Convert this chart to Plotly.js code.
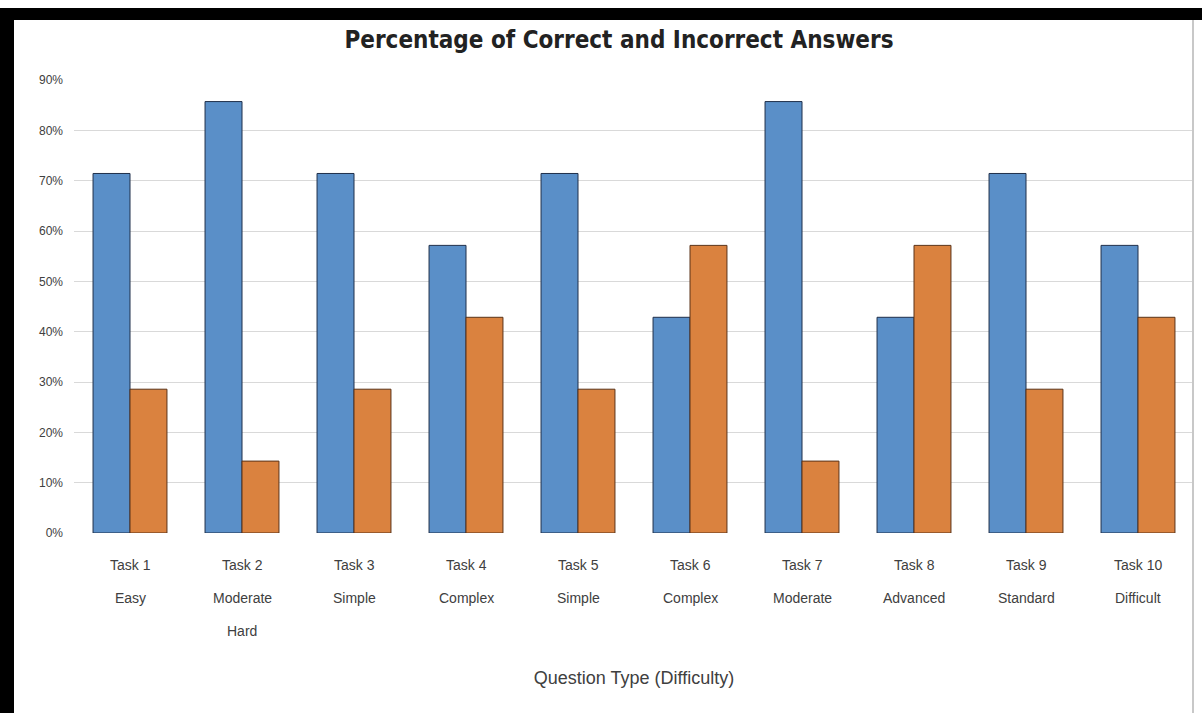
<!DOCTYPE html>
<html>
<head>
<meta charset="utf-8">
<script src="https://cdn.plot.ly/plotly-3.0.1.min.js"></script>
<style>
  html, body { margin: 0; padding: 0; background: #fff; width: 1202px; height: 713px; overflow: hidden; }
  #chart { position: absolute; left: 0; top: 0; width: 1202px; height: 713px; }
  #frameTop { position: absolute; left: 0; top: 8px; width: 1202px; height: 12px; background: #000; }
  #frameLeft { position: absolute; left: 0; top: 8px; width: 14px; height: 705px; background: #000; }
  #frameRight { position: absolute; left: 1192px; top: 20px; width: 2px; height: 693px; background: #c8c8c8; }
</style>
</head>
<body>
<div id="chart"></div>
<div id="frameTop"></div>
<div id="frameLeft"></div>
<div id="frameRight"></div>
<script>
// Categories and their label lines
const categories = ["Task 1", "Task 2", "Task 3", "Task 4", "Task 5", "Task 6", "Task 7", "Task 8", "Task 9", "Task 10"];
const labelLine2 = ["Easy", "Moderate", "Simple", "Complex", "Simple", "Complex", "Moderate", "Advanced", "Standard", "Difficult"];
const labelLine3 = ["", "Hard", "", "", "", "", "", "", "", ""];
// Number of respondents (out of 7) -> shares
const respondents = 7;
const correctCounts   = [5, 6, 5, 4, 5, 3, 6, 3, 5, 4];
const incorrectCounts = [2, 1, 2, 3, 2, 4, 1, 4, 2, 3];
const correctShare   = correctCounts.map(v => v / respondents);
const incorrectShare = incorrectCounts.map(v => v / respondents);
const yTicks = [0, 0.1, 0.2, 0.3, 0.4, 0.5, 0.6, 0.7, 0.8, 0.9];
const yTickLabels = ["0%", "10%", "20%", "30%", "40%", "50%", "60%", "70%", "80%", "90%"];

const traces = [
  { type: "bar", name: "Correct", x: categories, y: correctShare,
    marker: { color: "#5A8FC8", line: { color: "#1f2f4a", width: 1 } } },
  { type: "bar", name: "Incorrect", x: categories, y: incorrectShare,
    marker: { color: "#DA823F", line: { color: "#5a3318", width: 1 } } }
];

const labFont = { family: "Liberation Sans, Arial, sans-serif", size: 14, color: "#404040" };
const annotations = [];
[categories, labelLine2, labelLine3].forEach((arr, li) => {
  arr.forEach((t, i) => {
    if (!t) return;
    annotations.push({ xref: "x", yref: "paper", x: categories[i], y: 0, yanchor: "middle",
      yshift: -32 - li * 33, text: t, showarrow: false, font: labFont });
  });
});

const layout = {
  width: 1202, height: 713,
  paper_bgcolor: "#ffffff", plot_bgcolor: "#ffffff",
  margin: { l: 74, r: 8, t: 80, b: 180 },
  showlegend: false,
  barmode: "group",
  bargap: 0.34, bargroupgap: 0,
  annotations: annotations,
  title: { text: "<b>Percentage of Correct and Incorrect Answers</b>",
           font: { family: "Liberation Sans Narrow, Arial Narrow, DejaVu Sans Condensed, sans-serif", size: 24, color: "#222" },
           x: 0.515, xanchor: "center", y: 0.945, yanchor: "middle" },
  xaxis: {
    type: "category",
    showticklabels: false,
    showgrid: false, showline: false, ticks: "",
    title: { text: "Question Type (Difficulty)", standoff: 138,
             font: { family: "Liberation Sans, Arial, sans-serif", size: 18, color: "#404040" } }
  },
  yaxis: {
    range: [0, 0.9],
    tickvals: yTicks, ticktext: yTickLabels,
    tickfont: { family: "Liberation Sans, Arial, sans-serif", size: 12, color: "#404040" },
    ticklabelstandoff: 10,
    gridcolor: "#d9d9d9", gridwidth: 1,
    zeroline: false, showline: false, ticks: ""
  }
};

Plotly.newPlot("chart", traces, layout, { displayModeBar: false, staticPlot: true });
</script>
</body>
</html>
